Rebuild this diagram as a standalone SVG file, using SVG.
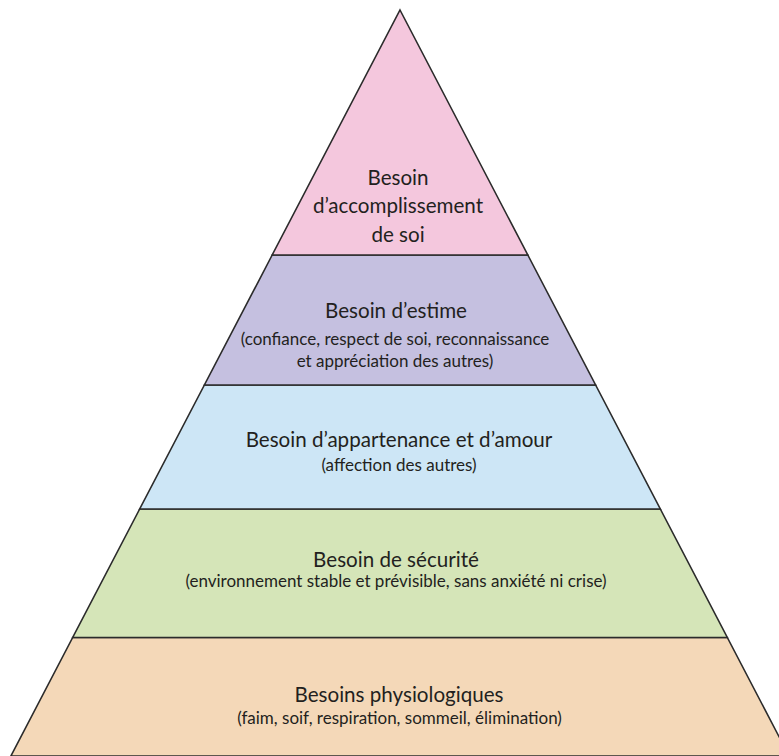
<svg xmlns="http://www.w3.org/2000/svg" width="779" height="756" viewBox="0 0 779 756">
<style>
.lvl{stroke:#2b2b2b;stroke-width:1.6;stroke-linejoin:miter}
.t{font-family:Lato,"Open Sans",sans-serif;fill:#231f20;text-anchor:middle}
.m{font-size:20.6px}
.s{font-size:17px}
</style>
<rect width="779" height="756" fill="#ffffff"/>
<g id="level-5-physiologiques">
<polygon class="lvl" fill="#f4d8b8" points="72.7,637.5 727.3,637.5 789.1,756 10.9,756"/>
<text class="t m" x="399" y="701.5">Besoins physiologiques</text>
<text class="t s" x="399.5" y="724.3">(faim, soif, respiration, sommeil, élimination)</text>
</g>
<g id="level-4-securite">
<polygon class="lvl" fill="#d5e5b8" points="139.7,509 660.3,509 727.3,637.5 72.7,637.5"/>
<text class="t m" x="396" y="566.5">Besoin de sécurité</text>
<text class="t s" x="396" y="587.3">(environnement stable et prévisible, sans anxiété ni crise)</text>
</g>
<g id="level-3-appartenance">
<polygon class="lvl" fill="#cde6f6" points="204.4,385 595.6,385 660.3,509 139.7,509"/>
<text class="t m" x="399" y="447.3">Besoin d’appartenance et d’amour</text>
<text class="t s" x="399" y="470.5">(affection des autres)</text>
</g>
<g id="level-2-estime">
<polygon class="lvl" fill="#c5c0e0" points="272.2,255 527.8,255 595.6,385 204.4,385"/>
<text class="t m" x="396" y="318.3">Besoin d’estime</text>
<text class="t s" x="395" y="344.5">(confiance, respect de soi, reconnaissance</text>
<text class="t s" x="395" y="366.5">et appréciation des autres)</text>
</g>
<g id="level-1-accomplissement">
<polygon class="lvl" fill="#f4c7dd" points="400,10 527.8,255 272.2,255"/>
<text class="t m" x="398" y="185">Besoin</text>
<text class="t m" x="398" y="213.3">d’accomplissement</text>
<text class="t m" x="398" y="241.7">de soi</text>
</g>
<g id="connectors"></g>
</svg>
